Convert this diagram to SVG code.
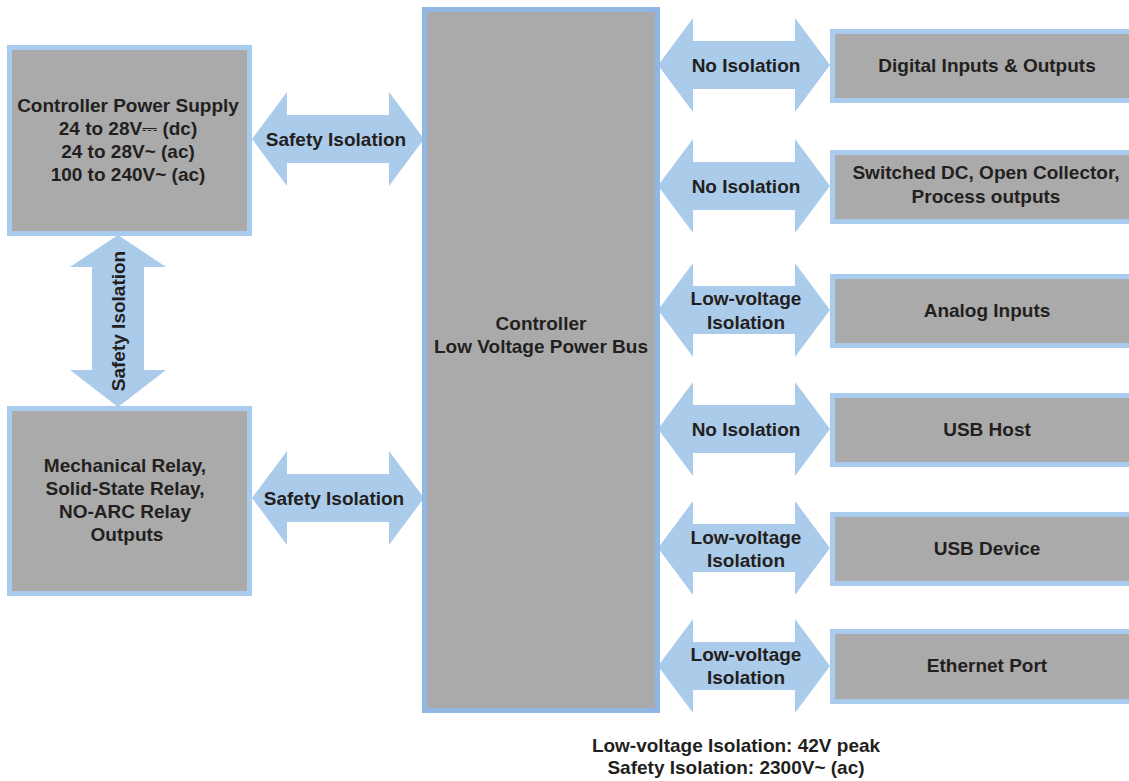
<svg xmlns="http://www.w3.org/2000/svg" width="1129" height="781" viewBox="0 0 1129 781">
<style>
.box{fill:#aaaaaa;stroke:#a9cbed;stroke-width:5}
.bus{fill:#aaaaaa;stroke:#8fb7e2;stroke-width:5}
.arr{fill:#abcbeb}
text{font-family:"Liberation Sans",Arial,"DejaVu Sans",sans-serif;font-weight:bold;font-size:19px;fill:#231f20;text-anchor:middle}
</style>
<defs>
<polygon id="harr" points="0,0 35,-47 35,-24 137,-24 137,-47 172,0 137,47 137,24 35,24 35,47"/>
</defs>
<g id="connectors">
<use href="#harr" class="arr" x="252" y="139"/>
<use href="#harr" class="arr" x="252" y="498"/>
<polygon class="arr" points="118,235 166,267 144,267 144,370 166,370 118,407 70,370 92,370 92,267 70,267"/>
<use href="#harr" class="arr" x="658" y="65"/>
<use href="#harr" class="arr" x="658" y="186"/>
<use href="#harr" class="arr" x="658" y="310"/>
<use href="#harr" class="arr" x="658" y="429"/>
<use href="#harr" class="arr" x="658" y="548"/>
<use href="#harr" class="arr" x="658" y="666"/>
<text x="336" y="146">Safety Isolation</text>
<text x="334" y="505">Safety Isolation</text>
<text transform="translate(125,321) rotate(-90)">Safety Isolation</text>
<text x="746" y="72">No Isolation</text>
<text x="746" y="193">No Isolation</text>
<text x="746" y="436">No Isolation</text>
<text x="746" y="305">Low-voltage</text>
<text x="746" y="329">Isolation</text>
<text x="746" y="544">Low-voltage</text>
<text x="746" y="567">Isolation</text>
<text x="746" y="661">Low-voltage</text>
<text x="746" y="684">Isolation</text>
</g>
<g id="power-supply">
<rect class="box" x="9.5" y="47.5" width="240" height="186"/>
<text x="128" y="112">Controller Power Supply</text>
<text x="128" y="135">24 to 28V<tspan font-family="DejaVu Sans" font-weight="normal">⎓</tspan> (dc)</text>
<text x="128" y="158">24 to 28V~ (ac)</text>
<text x="128" y="181">100 to 240V~ (ac)</text>
</g>
<g id="relay-outputs">
<rect class="box" x="9.5" y="408.5" width="240" height="185"/>
<text x="125" y="472">Mechanical Relay,</text>
<text x="125" y="495">Solid-State Relay,</text>
<text x="125" y="518">NO-ARC Relay</text>
<text x="127" y="541">Outputs</text>
</g>
<g id="power-bus">
<rect class="bus" x="424.5" y="9.5" width="233" height="701"/>
<text x="541" y="330">Controller</text>
<text x="541" y="353">Low Voltage Power Bus</text>
</g>
<g id="digital-io">
<rect class="box" x="832.5" y="31.5" width="300" height="69"/>
<text x="987" y="72">Digital Inputs &amp; Outputs</text>
</g>
<g id="switched-dc">
<rect class="box" x="832.5" y="152.5" width="300" height="69"/>
<text x="986" y="179">Switched DC, Open Collector,</text>
<text x="986" y="203">Process outputs</text>
</g>
<g id="analog-inputs">
<rect class="box" x="832.5" y="276.5" width="300" height="69"/>
<text x="987" y="317">Analog Inputs</text>
</g>
<g id="usb-host">
<rect class="box" x="832.5" y="395.5" width="300" height="69"/>
<text x="987" y="436">USB Host</text>
</g>
<g id="usb-device">
<rect class="box" x="832.5" y="514.5" width="300" height="69"/>
<text x="987" y="555">USB Device</text>
</g>
<g id="ethernet-port">
<rect class="box" x="832.5" y="631.5" width="300" height="70"/>
<text x="987" y="672">Ethernet Port</text>
</g>
<g id="legend">
<text x="736" y="752">Low-voltage Isolation: 42V peak</text>
<text x="736" y="774">Safety Isolation: 2300V~ (ac)</text>
</g>
</svg>
